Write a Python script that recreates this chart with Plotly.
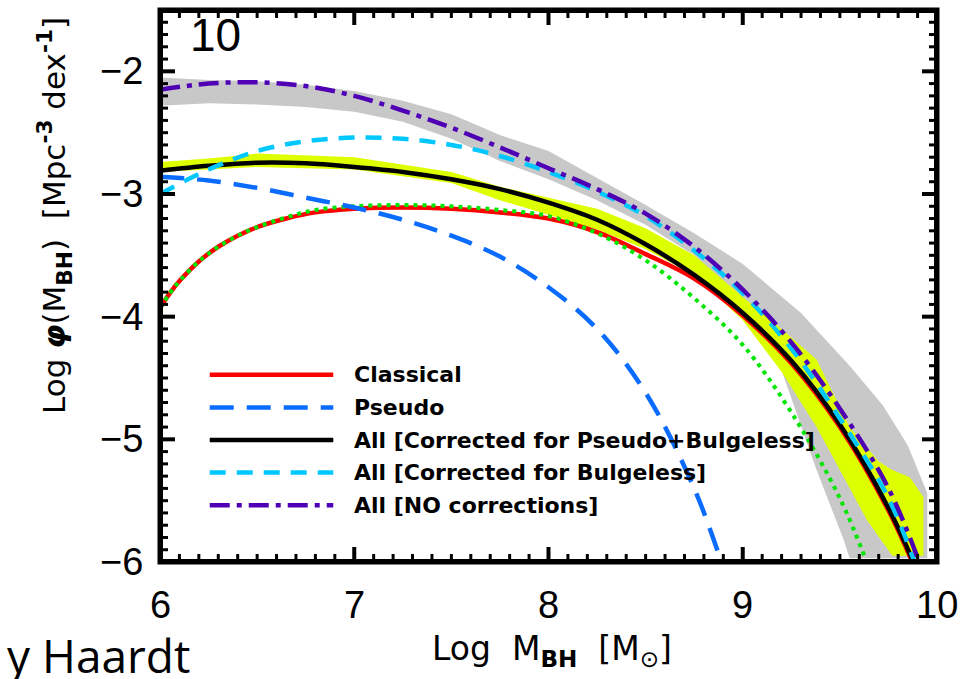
import plotly.graph_objects as go

# ---------------------------------------------------------------
# Black-hole mass function, log phi(M_BH) vs log M_BH
# ---------------------------------------------------------------

# Classical bulges (red, solid)
classical_x = [6.0, 6.05, 6.1, 6.2, 6.3, 6.4, 6.5, 6.65, 6.8, 7.0, 7.25, 7.5, 7.75, 8.0, 8.25, 8.5, 8.75, 9.0, 9.25, 9.5, 9.75, 9.9]
classical_y = [-3.93, -3.81, -3.71, -3.55, -3.43, -3.34, -3.27, -3.20, -3.15, -3.12, -3.11, -3.12, -3.15, -3.20, -3.31, -3.49, -3.69, -3.99, -4.38, -4.90, -5.58, -6.10]

# Pseudo bulges (blue, long dashes)
pseudo_x = [6.0, 6.25, 6.5, 6.75, 7.0, 7.25, 7.5, 7.75, 8.0, 8.25, 8.5, 8.75, 8.9]
pseudo_y = [-2.86, -2.89, -2.95, -3.03, -3.11, -3.21, -3.34, -3.51, -3.76, -4.10, -4.62, -5.40, -6.05]

# All galaxies, corrected for pseudo bulges + bulgeless (black, solid)
all_pb_x = [6.0, 6.25, 6.5, 6.75, 7.0, 7.25, 7.5, 7.75, 8.0, 8.25, 8.5, 8.75, 9.0, 9.25, 9.5, 9.75, 9.9]
all_pb_y = [-2.81, -2.77, -2.745, -2.75, -2.78, -2.82, -2.88, -2.96, -3.07, -3.21, -3.41, -3.66, -3.97, -4.36, -4.88, -5.56, -6.08]

# All galaxies, corrected for bulgeless only (cyan, short dashes)
all_b_x = [6.0, 6.25, 6.5, 6.75, 7.0, 7.25, 7.5, 7.75, 8.0, 8.25, 8.5, 8.75, 9.0, 9.25, 9.5, 9.75, 9.9]
all_b_y = [-3.00, -2.80, -2.65, -2.57, -2.54, -2.55, -2.60, -2.69, -2.82, -2.98, -3.18, -3.46, -3.81, -4.26, -4.83, -5.48, -6.07]

# All galaxies, no corrections (purple, dash-dot)
all_nc_x = [6.0, 6.25, 6.5, 6.75, 7.0, 7.25, 7.5, 7.75, 8.0, 8.25, 8.5, 8.75, 9.0, 9.25, 9.5, 9.75, 9.92]
all_nc_y = [-2.15, -2.10, -2.09, -2.12, -2.20, -2.32, -2.46, -2.62, -2.79, -2.96, -3.16, -3.43, -3.78, -4.21, -4.75, -5.40, -6.05]

# Classical bulges, alternative relation (green, dotted)
alt_x = [6.0, 6.05, 6.1, 6.2, 6.3, 6.4, 6.5, 6.65, 6.8, 7.0, 7.25, 7.5, 7.75, 8.0, 8.25, 8.5, 8.75, 9.0, 9.25, 9.5, 9.65]
alt_y = [-3.93, -3.81, -3.71, -3.55, -3.43, -3.34, -3.27, -3.19, -3.13, -3.10, -3.09, -3.10, -3.13, -3.18, -3.32, -3.54, -3.85, -4.23, -4.78, -5.48, -6.05]

# Uncertainty region, uncorrected sample (grey)
grey_up_x = [6.0, 6.25, 6.5, 6.75, 7.0, 7.25, 7.5, 7.75, 8.0, 8.25, 8.5, 8.75, 9.0, 9.3, 9.55, 9.72, 9.85, 9.95, 9.95]
grey_up_y = [-2.05, -2.07, -2.08, -2.11, -2.16, -2.24, -2.35, -2.52, -2.65, -2.87, -3.09, -3.32, -3.57, -3.97, -4.40, -4.72, -5.05, -5.44, -5.97]
grey_lo_x = [6.0, 6.25, 6.5, 6.75, 7.0, 7.25, 7.5, 7.75, 8.0, 8.25, 8.5, 8.75, 9.0, 9.18, 9.24, 9.38, 9.52, 9.55]
grey_lo_y = [-2.28, -2.26, -2.27, -2.29, -2.33, -2.41, -2.55, -2.73, -2.88, -3.05, -3.25, -3.50, -3.90, -4.35, -4.62, -5.25, -5.82, -5.97]

# Uncertainty region, corrected sample (yellow)
yellow_up_x = [6.0, 6.25, 6.5, 7.0, 7.5, 7.75, 8.0, 8.25, 8.5, 8.75, 9.0, 9.2, 9.38, 9.55, 9.7, 9.77, 9.86, 9.93, 9.93]
yellow_up_y = [-2.74, -2.71, -2.67, -2.70, -2.82, -2.94, -3.03, -3.12, -3.28, -3.50, -3.84, -4.10, -4.35, -4.90, -5.18, -5.25, -5.31, -5.47, -5.95]
yellow_lo_x = [6.0, 6.5, 7.0, 7.5, 7.75, 8.0, 8.25, 8.5, 8.75, 9.0, 9.2, 9.38, 9.52, 9.64, 9.77]
yellow_lo_y = [-2.82, -2.78, -2.80, -2.91, -3.05, -3.17, -3.29, -3.45, -3.66, -4.03, -4.45, -4.90, -5.31, -5.66, -5.95]

# Tick values and axis ranges
x_ticks = [6, 7, 8, 9, 10]
y_ticks = [-6, -5, -4, -3, -2]
X_RANGE = [6, 10]
Y_RANGE = [-6, -1.5]

# Legend entries: label, colour, dash pattern
legend_labels = ["Classical", "Pseudo", "All [Corrected for Pseudo+Bulgeless]",
                 "All [Corrected for Bulgeless]", "All [NO corrections]"]
legend_colors = ["#FF0000", "#0A6CFF", "#000000", "#00C8FF", "#5000B4"]
legend_dashes = ["solid", "24px,13px", "solid", "16px,11px", "20px,7px,5px,7px"]

W, H = 967, 679
M = dict(l=160, r=30, t=10, b=117)
LW = 4.5
fig = go.Figure()


def band(xu, yu, xl, yl, color):
    fig.add_trace(go.Scatter(
        x=list(xu) + list(xl)[::-1], y=list(yu) + list(yl)[::-1],
        fill="toself", fillcolor=color, mode="lines", line=dict(width=0),
        hoverinfo="skip", showlegend=False))


band(grey_up_x, grey_up_y, grey_lo_x, grey_lo_y, "#C8C8C8")
band(yellow_up_x, yellow_up_y, yellow_lo_x, yellow_lo_y, "#DDFF00")


def curve(x, y, color, dash, width=LW):
    fig.add_trace(go.Scatter(
        x=x, y=y, mode="lines",
        line=dict(color=color, width=width, dash=dash, shape="spline", smoothing=1.0),
        hoverinfo="skip", showlegend=False))


curve(classical_x, classical_y, legend_colors[0], legend_dashes[0])
curve(alt_x, alt_y, "#00E600", "4px,5px", 4)
curve(all_pb_x, all_pb_y, legend_colors[2], legend_dashes[2])
curve(pseudo_x, pseudo_y, legend_colors[1], legend_dashes[1])
curve(all_b_x, all_b_y, legend_colors[3], legend_dashes[3])
curve(all_nc_x, all_nc_y, legend_colors[4], legend_dashes[4])

# Inward ticks on all four sides, drawn as line segments in data space
x_per_px = (X_RANGE[1] - X_RANGE[0]) / (W - M["l"] - M["r"])
y_per_px = (Y_RANGE[1] - Y_RANGE[0]) / (H - M["t"] - M["b"])
x_minor = [round(X_RANGE[0] + 0.1 * i, 1) for i in range(1, 40) if i % 10]
y_minor = [round(Y_RANGE[0] + 0.1 * i, 1) for i in range(1, 45) if i % 10]


def tick_segments(xvals, yvals, length_px):
    sx, sy = [], []
    dy = length_px * y_per_px
    dx = length_px * x_per_px
    for v in xvals:
        sx += [v, v, None, v, v, None]
        sy += [Y_RANGE[0], Y_RANGE[0] + dy, None, Y_RANGE[1], Y_RANGE[1] - dy, None]
    for v in yvals:
        sx += [X_RANGE[0], X_RANGE[0] + dx, None, X_RANGE[1], X_RANGE[1] - dx, None]
        sy += [v, v, None, v, v, None]
    return sx, sy


for vals_x, vals_y, length, width in ((x_ticks, y_ticks, 15, 4), (x_minor, y_minor, 8, 3)):
    tx, ty = tick_segments(vals_x, vals_y, length)
    fig.add_trace(go.Scatter(x=tx, y=ty, mode="lines", line=dict(color="black", width=width),
                             hoverinfo="skip", showlegend=False))

# Frame (inner half from a trace, outer half from a shape)
fig.add_trace(go.Scatter(x=[X_RANGE[0], X_RANGE[1], X_RANGE[1], X_RANGE[0], X_RANGE[0]],
                         y=[Y_RANGE[0], Y_RANGE[0], Y_RANGE[1], Y_RANGE[1], Y_RANGE[0]],
                         mode="lines", line=dict(color="black", width=6),
                         hoverinfo="skip", showlegend=False))
fig.add_shape(type="rect", xref="paper", yref="paper", x0=0, x1=1, y0=0, y1=1,
              line=dict(color="black", width=5), fillcolor="rgba(0,0,0,0)")

# Hand-built legend with long line samples
leg_x0, leg_x1, leg_tx = 0.064, 0.223, 0.247
leg_top, leg_gap = 0.339, 0.0590
for i, (lab, col, dsh) in enumerate(zip(legend_labels, legend_colors, legend_dashes)):
    yy = leg_top - i * leg_gap
    fig.add_shape(type="line", xref="paper", yref="paper", x0=leg_x0, x1=leg_x1, y0=yy, y1=yy,
                  line=dict(color=col, width=LW, dash=dsh))
    fig.add_annotation(xref="paper", yref="paper", x=leg_tx, y=yy, text=f"<b>{lab}</b>",
                       showarrow=False, xanchor="left", yanchor="middle",
                       font=dict(family="DejaVu Sans", size=22, color="black"))

# Tick labels, set a little away from the frame
tick_font = dict(family="Liberation Sans", size=38, color="black")
for v in x_ticks:
    fig.add_annotation(xref="x", yref="paper", x=v, y=0, text=str(v), showarrow=False,
                       xanchor="center", yanchor="middle", yshift=-43, font=tick_font)
for v in y_ticks:
    fig.add_annotation(xref="paper", yref="y", x=0, y=v, text="\u2212" + str(-v), showarrow=False,
                       xanchor="right", yanchor="middle", xshift=-15, font=tick_font)

# Panel number
fig.add_annotation(xref="paper", yref="paper", x=0.036, y=0.955, text="10", showarrow=False,
                   xanchor="left", yanchor="middle",
                   font=dict(family="Liberation Sans", size=46, color="black"))

# Axis titles
fig.add_annotation(xref="paper", yref="paper", x=0.505, y=-0.160,
                   text="Log  M<sub><b>BH</b></sub>  [M<sub>⊙</sub>]", showarrow=False,
                   xanchor="center", yanchor="middle",
                   font=dict(family="DejaVu Sans", size=33, color="black"))
fig.add_annotation(xref="paper", yref="paper", x=-0.135, y=0.627, textangle=-90,
                   text="Log <b><i>φ</i></b>(M<sub><b>BH</b></sub>)  [Mpc<sup><b>-3</b></sup> dex<sup><b>-1</b></sup>]",
                   showarrow=False, xanchor="center", yanchor="middle",
                   font=dict(family="DejaVu Sans", size=31, color="black"))

# Author credit fragment at bottom left
fig.add_annotation(xref="paper", yref="paper", x=0.041, y=-0.168, text="y Haardt", showarrow=False,
                   xanchor="right", yanchor="middle",
                   font=dict(family="Open Sans", size=46, color="black"))

axis_common = dict(showgrid=False, zeroline=False, showline=False, ticks="", showticklabels=False)
fig.update_xaxes(range=X_RANGE, **axis_common)
fig.update_yaxes(range=Y_RANGE, **axis_common)

fig.update_layout(
    width=W, height=H,
    margin=M,
    paper_bgcolor="white", plot_bgcolor="white",
    showlegend=False,
)

fig.write_html("out.html")
